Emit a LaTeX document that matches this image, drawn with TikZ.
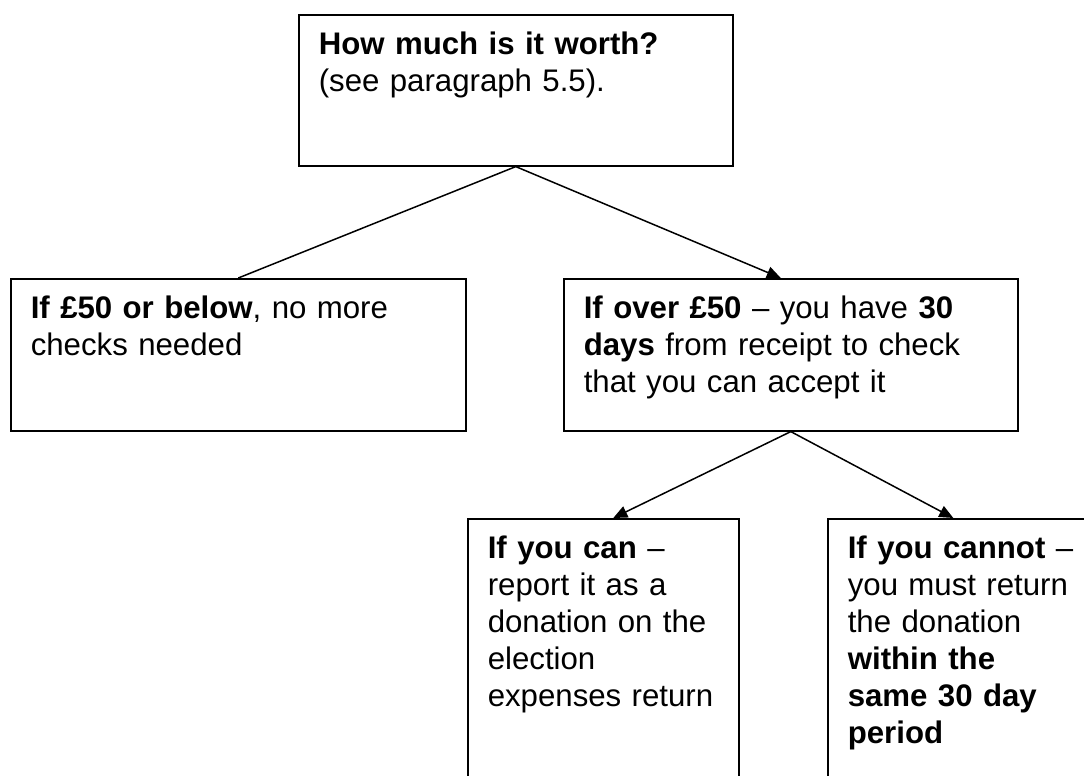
\documentclass[tikz,border=0pt]{standalone}
\usepackage{fontspec}
\setmainfont{Liberation Sans}
\usetikzlibrary{arrows.meta}
\newcommand{\boxfont}{\fontsize{15.6pt}{18.5pt}\selectfont\hyphenpenalty=10000\relax}

\begin{document}
\begin{tikzpicture}[
	x=0.5pt, y=-0.5pt,
	% cajas con el texto arriba a la izquierda
	box/.style={rectangle, draw, line width=0.8pt, anchor=north west, align=left, inner xsep=10pt, inner ysep=0pt, text height=20pt, font=\boxfont},
	myline/.style={line width=0.75pt, black},
	myarrow/.style={-{Triangle[length=7pt, width=6pt]}, line width=0.75pt, black}
	]
	\useasboundingbox (0,0) rectangle (1084,776);
	\clip (0,0) rectangle (1084,776);
	
	\node[box, text width=197pt, text depth=55.5pt] (worth) at (298,14) {\textbf{How much is it worth?}\\(see paragraph 5.5).};
	\node[box, text width=207.5pt, text depth=56pt] (below) at (10,278) {\textbf{If £50 or below}, no more\\checks needed};
	\node[box, text width=207pt, text depth=56pt] (over) at (563,278) {\textbf{If over £50} – you have \textbf{30}\\\textbf{days} from receipt to check\\that you can accept it};
	\node[box, text width=115.5pt, text depth=140pt] (can) at (467,518) {\textbf{If you can} –\\report it as a\\donation on the\\election\\expenses return};
	\node[box, text width=115.5pt, text depth=140pt] (cannot) at (827,518) {\textbf{If you cannot} –\\you must return\\the donation\\\textbf{within the}\\\textbf{same 30 day}\\\textbf{period}};
	
	% las flechas salen del centro de abajo
	\draw[myline] (worth.south) -- (below.north);
	\draw[myarrow] (worth.south) -- ([xshift=-5pt]over.north);
	\draw[myarrow] (over.south) -- ([xshift=5pt]can.north);
	\draw[myarrow] (over.south) -- ([xshift=-5pt]cannot.north);
	
\end{tikzpicture}
\end{document}
